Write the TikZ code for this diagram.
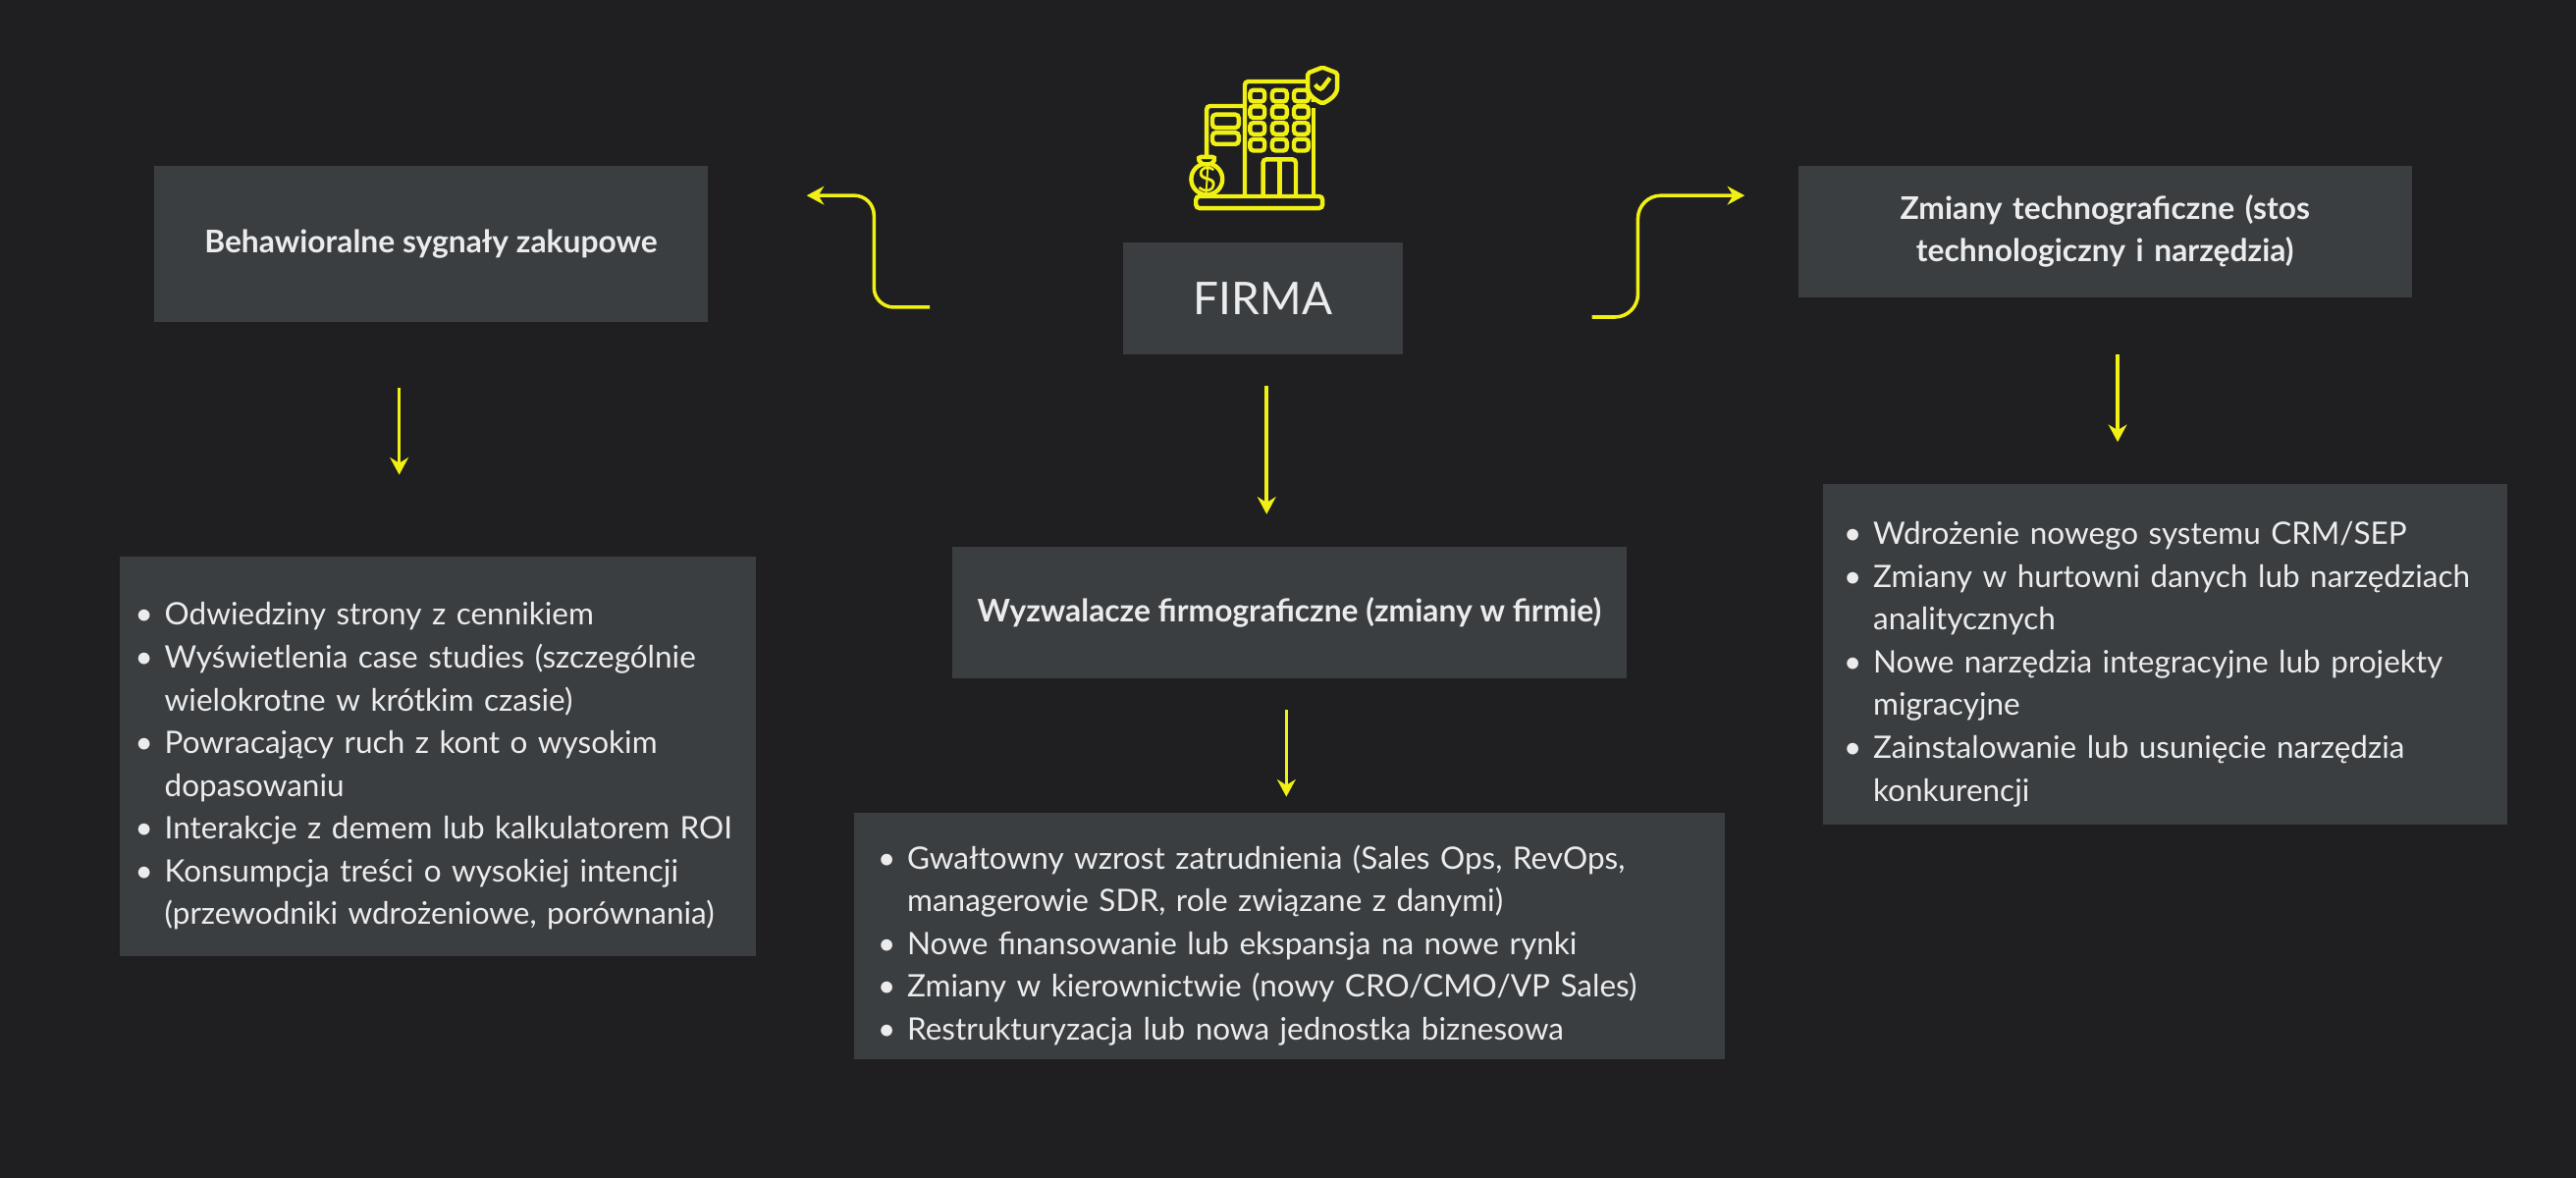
\documentclass[tikz,border=0pt]{standalone}
\usepackage{fontspec}
\setmainfont{Lato}
\usepackage{enumitem}
\usetikzlibrary{arrows.meta}
\definecolor{bg}{HTML}{1F1E20}
\definecolor{bx}{HTML}{3B3E41}
\definecolor{yl}{HTML}{F0F014}
\definecolor{tx}{HTML}{ECECEC}
\begin{document}
\begin{tikzpicture}[x=0.01cm,y=-0.01cm,
  box/.style={fill=bx,text=tx,inner sep=0pt,align=center,font=\fontsize{5.4}{7.4}\selectfont\bfseries},
  lst/.style={fill=bx,text=tx,inner sep=0pt,font=\fontsize{5.35}{7.4}\selectfont},
  arr/.style={yl,line width=0.6pt,-{Stealth[length=3pt,width=3.2pt]}},
  ic/.style={yl,line width=0.75pt,rounded corners=0.6pt}]
\fill[bg] (0,0) rectangle (1568,717);
\useasboundingbox (0,0) rectangle (1568,717);
% boxes
\node[box,minimum width=3.37cm,minimum height=0.95cm,anchor=north west] (beh) at (93,100) {Behawioralne sygnały zakupowe};
\node[box,minimum width=1.70cm,minimum height=0.68cm,anchor=north west,font=\fontsize{7.8}{9}\selectfont] (firma) at (683,147) {FIRMA};
\node[box,minimum width=3.73cm,minimum height=0.80cm,anchor=north west,text width=3.0cm] (tech) at (1094,100) {Zmiany technograficzne (stos technologiczny i narzędzia)};
\node[box,minimum width=4.10cm,minimum height=0.80cm,anchor=north west] (wyz) at (579,332) {Wyzwalacze firmograficzne (zmiany w firmie)};
\newcommand{\mylist}[1]{\raggedright\begin{itemize}[leftmargin=0.15cm,labelsep=0.07cm,itemsep=0pt,topsep=0pt,parsep=0pt,partopsep=0pt,label=\textbullet]#1\end{itemize}}
\node[lst,minimum width=3.87cm,minimum height=2.43cm,anchor=north west,text width=3.62cm] (l1) at (72,338) {\mylist{
\item Odwiedziny strony z cennikiem
\item Wyświetlenia case studies (szczególnie wielokrotne w krótkim czasie)
\item Powracający ruch z kont o wysokim dopasowaniu
\item Interakcje z demem lub kalkulatorem ROI
\item Konsumpcja treści o wysokiej intencji (przewodniki wdrożeniowe, porównania)}};
\node[lst,minimum width=5.30cm,minimum height=1.50cm,anchor=north west,text width=4.95cm] (l2) at (519,494) {\mylist{
\item Gwałtowny wzrost zatrudnienia (Sales Ops, RevOps, managerowie SDR, role związane z danymi)
\item Nowe finansowanie lub ekspansja na nowe rynki
\item Zmiany w kierownictwie (nowy CRO/CMO/VP Sales)
\item Restrukturyzacja lub nowa jednostka biznesowa}};
\node[lst,minimum width=4.16cm,minimum height=2.07cm,anchor=north west,text width=3.85cm] (l3) at (1109,294) {\mylist{
\item Wdrożenie nowego systemu CRM/SEP
\item Zmiany w hurtowni danych lub narzędziach analitycznych
\item Nowe narzędzia integracyjne lub projekty migracyjne
\item Zainstalowanie lub usunięcie narzędzia konkurencji}};
% arrows
\coordinate (a1) at (243,236); \coordinate (a2) at (243,289);
\coordinate (b1) at (771,235); \coordinate (b2) at (771,313);
\coordinate (c1) at (783,432); \coordinate (c2) at (783,485);
\coordinate (d1) at (1289,216); \coordinate (d2) at (1289,269);
\draw[arr] (a1)--(a2); \draw[arr] (b1)--(b2); \draw[arr] (c1)--(c2); \draw[arr] (d1)--(d2);
\coordinate (e1) at (566,187); \coordinate (e2) at (491,119);
\draw[arr,rounded corners=0.12cm] (e1)--(532,187)--(532,119)--(e2);
\coordinate (f1) at (969,193); \coordinate (f2) at (1062,119);
\draw[arr,rounded corners=0.14cm] (f1)--(997,193)--(997,119)--(f2);
% icon
\draw[ic] (728,119.5) rectangle (805,126.7);
\draw[ic] (757.7,119.5)--(757.7,49.6)--(799.5,49.6)--(799.5,62);
\draw[ic] (799.5,66)--(799.5,119.5);
\draw[ic] (757.7,64.5)--(734.5,64.5)--(734.5,96);
\foreach \x in {760.9,774.4,787.6} \foreach \y in {54.8,64.7,74.7,84.7}
  \draw[ic] (\x,\y) rectangle ++(8.9,7);
\draw[ic] (738,69.7) rectangle (754,77.7);
\draw[ic] (738,80.7) rectangle (754,87.7);
\draw[ic] (768.8,119.5)--(768.8,97)--(788.8,97)--(788.8,119.5);
\draw[ic] (778.8,97)--(778.8,119.5);
\draw[ic,fill=bg] (734.6,109) circle (9.5);
\draw[ic,fill=bg] (731,100)--(729,95.5)--(740,95.5)--(738,100)--cycle;
\node[yl,font=\fontsize{6}{6}\selectfont,inner sep=0] (dol) at (734.6,109.5) {\$};
\draw[ic,fill=bg,rounded corners=0.3pt] (805,41)--(796,44.5)--(796,52) .. controls (796,58) and (801,61) .. (805,63) .. controls (809,61) and (814,58) .. (814,52)--(814,44.5)--cycle;
\draw[ic] (800.5,51.5)--(803.8,55)--(809.5,47.5);
\end{tikzpicture}
\end{document}
